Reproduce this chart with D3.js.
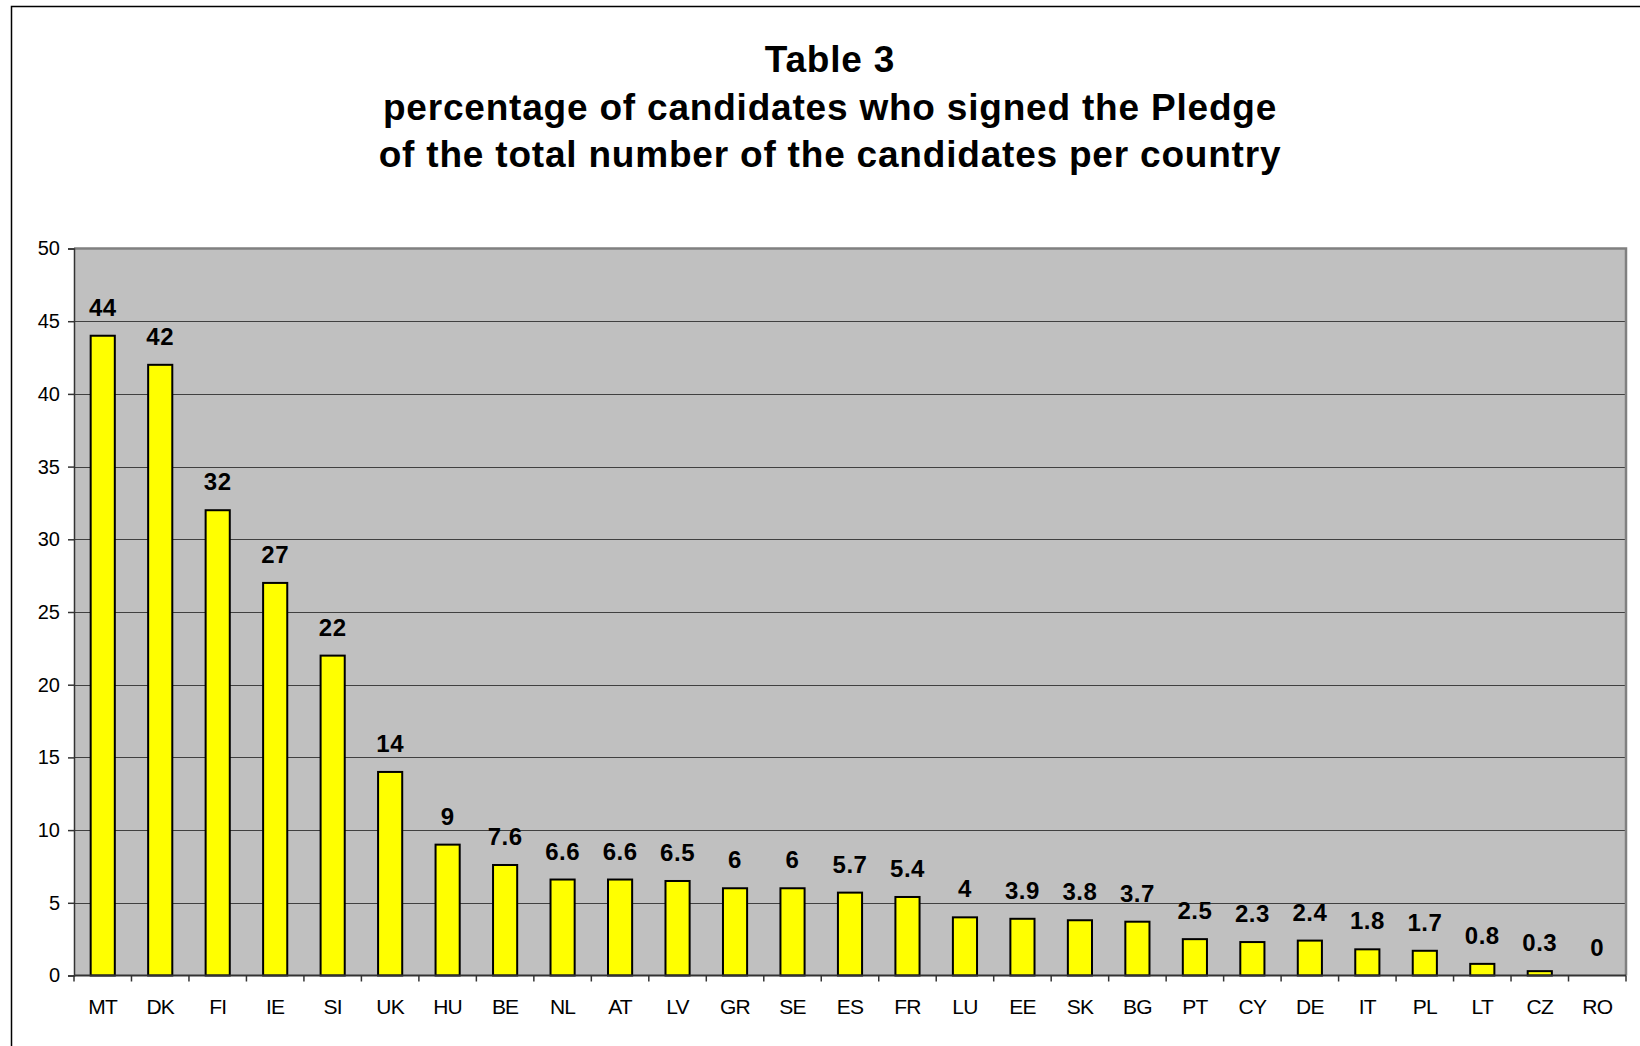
<!DOCTYPE html>
<html><head><meta charset="utf-8">
<script src="https://cdn.jsdelivr.net/npm/d3@7"></script>
<style>
html,body{margin:0;padding:0;background:#fff;}
svg{display:block;font-family:"Liberation Sans",Arial,sans-serif;}
</style></head>
<body>
<svg id="chart" width="1640" height="1046"></svg>
<script>
const titleLines = ["Table 3", "percentage of candidates who signed the Pledge", "of the total number of the candidates per country"];
const countries = ["MT","DK","FI","IE","SI","UK","HU","BE","NL","AT","LV","GR","SE","ES","FR","LU","EE","SK","BG","PT","CY","DE","IT","PL","LT","CZ","RO"];
const values = [44,42,32,27,22,14,9,7.6,6.6,6.6,6.5,6,6,5.7,5.4,4,3.9,3.8,3.7,2.5,2.3,2.4,1.8,1.7,0.8,0.3,0];
const yTicks = [0,5,10,15,20,25,30,35,40,45,50];

const FONT = '"Liberation Sans",Arial,sans-serif';
const svg = d3.select("#chart");
const W = 1640, H = 1046;
const m = {left:74, right:1626, top:248.5, bottom:975.5};

// outer frame
svg.append("rect").attr("x",11.5).attr("y",6.5).attr("width",W).attr("height",H)
  .attr("fill","none").attr("stroke","#000").attr("stroke-width",1.5);

// title
svg.append("g").selectAll("text").data(titleLines).join("text")
  .attr("x",830).attr("y",(d,i)=>72+i*47.5)
  .attr("text-anchor","middle").attr("font-weight","bold").attr("font-size",37).attr("letter-spacing","0.8px")
  .attr("font-family",FONT).attr("fill","#000").text(d=>d);

const x = d3.scaleBand().domain(countries).range([m.left,m.right]).paddingInner(0.58).paddingOuter(0.29);
const xb = d3.scaleBand().domain(countries).range([m.left,m.right]);
const y = d3.scaleLinear().domain([0,50]).range([m.bottom,m.top]);

// plot area
svg.append("rect").attr("x",m.left).attr("y",m.top).attr("width",m.right-m.left).attr("height",m.bottom-m.top)
  .attr("fill","#c0c0c0");

// gridlines
svg.append("g").selectAll("line").data(yTicks.filter(t=>t>0&&t<50)).join("line")
  .attr("x1",m.left).attr("x2",m.right).attr("y1",d=>Math.round(y(d))+0.5).attr("y2",d=>Math.round(y(d))+0.5)
  .attr("stroke","#404040").attr("stroke-width",1.2);

// top/right plot border
svg.append("path").attr("d",`M${m.left},${m.top} H${m.right} V${m.bottom}`)
  .attr("fill","none").attr("stroke","#808080").attr("stroke-width",2.5);

// bars
svg.append("g").selectAll("rect").data(values.map((v,i)=>({c:countries[i],v}))).join("rect")
  .attr("x",d=>x(d.c)).attr("width",x.bandwidth())
  .attr("y",d=>y(d.v)).attr("height",d=>y(0)-y(d.v))
  .attr("fill",d=>d.v>0?"#ffff00":"none").attr("stroke",d=>d.v>0?"#000":"none").attr("stroke-width",2);

// value labels
svg.append("g").selectAll("text").data(values.map((v,i)=>({c:countries[i],v}))).join("text")
  .attr("x",d=>x(d.c)+x.bandwidth()/2).attr("y",d=>y(d.v)-20)
  .attr("text-anchor","middle").attr("font-weight","bold").attr("font-size",24).attr("letter-spacing","0.5px").attr("font-family",FONT).attr("fill","#000")
  .text(d=>d.v);

// y axis
const yAxis = svg.append("g").attr("transform",`translate(${m.left},0)`)
  .call(d3.axisLeft(y).tickValues(yTicks).tickSize(6).tickPadding(8).tickFormat(d3.format("d")));
yAxis.select(".domain").attr("stroke","#333").attr("stroke-width",1.5);
yAxis.selectAll(".tick line").attr("stroke","#333").attr("stroke-width",1.5);
yAxis.selectAll("text").attr("font-size",20).attr("fill","#000").attr("font-family",FONT);

// x axis baseline and ticks at band boundaries
svg.append("line").attr("x1",m.left).attr("x2",m.right).attr("y1",m.bottom).attr("y2",m.bottom)
  .attr("stroke","#333").attr("stroke-width",2);
const bounds = countries.map(c=>xb(c)).concat([m.right]);
svg.append("g").selectAll("line").data(bounds).join("line")
  .attr("x1",d=>d).attr("x2",d=>d).attr("y1",m.bottom).attr("y2",m.bottom+6)
  .attr("stroke","#333").attr("stroke-width",1.5);
svg.append("g").selectAll("text").data(countries).join("text")
  .attr("x",d=>xb(d)+xb.bandwidth()/2).attr("y",1014)
  .attr("text-anchor","middle").attr("font-size",21).attr("letter-spacing","-0.8px").attr("font-family",FONT).attr("fill","#000")
  .text(d=>d);
</script>
</body></html>
